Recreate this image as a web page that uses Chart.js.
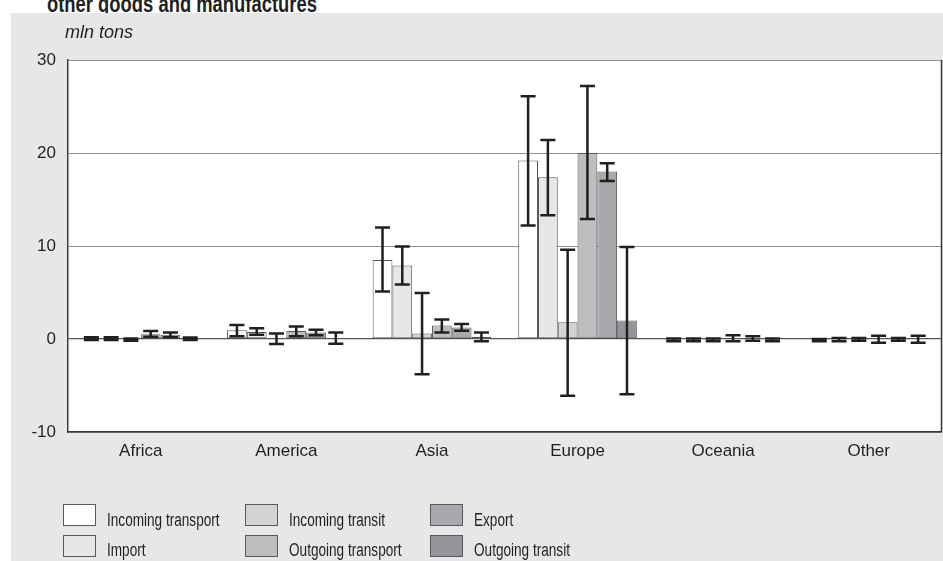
<!DOCTYPE html>
<html>
<head>
<meta charset="utf-8">
<script src="https://cdn.jsdelivr.net/npm/chart.js@4.4.0/dist/chart.umd.min.js"></script>
<style>
  html, body { margin: 0; padding: 0; background: #ffffff; }
  body { width: 943px; height: 561px; position: relative; overflow: hidden; font-family: 'Liberation Sans', Arial, sans-serif; color: #231f20; }
  #title { position: absolute; left: 47px; top: -7px; font-size: 23px; font-weight: bold; line-height: 23px; white-space: nowrap; transform: scaleX(0.8); transform-origin: left center; }
  #panel { position: absolute; left: 11px; top: 13px; width: 932px; height: 548px; background: #e6e7e8; }
  #chart { position: absolute; left: 0; top: 0; }
  #unit { position: absolute; left: 54px; top: 10px; font-size: 18px; font-style: italic; line-height: 18px; white-space: nowrap; }
  .lbox { position: absolute; width: 31px; height: 20px; border: 1px solid #58595b; }
  .ltxt { position: absolute; font-size: 18px; line-height: 18px; white-space: nowrap; transform: scaleX(0.755); transform-origin: left center; }
</style>
</head>
<body>
<div id="title">other goods and manufactures</div>
<div id="panel">
  <canvas id="chart" width="932" height="548"></canvas>
  <div id="unit">mln tons</div>
  <div id="legend"></div>
</div>
<script>
const categories = ['Africa', 'America', 'Asia', 'Europe', 'Oceania', 'Other'];
const yTicks = [-10, 0, 10, 20, 30];

const seriesNames = ['Incoming transport', 'Import', 'Incoming transit', 'Outgoing transport', 'Export', 'Outgoing transit'];

const incomingTransport = [0.05, 0.95, 8.5, 19.2, -0.1, -0.1];
const incomingTransportLow = [-0.1, 0.3, 5.1, 12.2, -0.25, -0.25];
const incomingTransportHigh = [0.2, 1.5, 12.0, 26.1, 0.05, 0.0];

const importValues = [0.05, 0.75, 7.9, 17.4, -0.1, -0.05];
const importLow = [-0.1, 0.45, 5.85, 13.3, -0.25, -0.25];
const importHigh = [0.2, 1.15, 9.95, 21.4, 0.05, 0.1];

const incomingTransit = [-0.05, 0.05, 0.6, 1.8, -0.1, -0.05];
const incomingTransitLow = [-0.2, -0.55, -3.8, -6.1, -0.25, -0.2];
const incomingTransitHigh = [0.05, 0.6, 4.95, 9.6, 0.05, 0.1];

const outgoingTransport = [0.5, 0.85, 1.45, 20.0, 0.1, 0.0];
const outgoingTransportLow = [0.25, 0.3, 0.7, 12.9, -0.25, -0.4];
const outgoingTransportHigh = [0.85, 1.35, 2.1, 27.2, 0.4, 0.35];

const exportValues = [0.45, 0.7, 1.25, 18.0, 0.05, -0.05];
const exportLow = [0.2, 0.4, 0.9, 17.0, -0.2, -0.2];
const exportHigh = [0.7, 1.0, 1.6, 18.9, 0.3, 0.1];

const outgoingTransit = [0.05, 0.1, 0.25, 2.0, -0.1, 0.0];
const outgoingTransitLow = [-0.1, -0.5, -0.25, -5.95, -0.25, -0.4];
const outgoingTransitHigh = [0.15, 0.7, 0.7, 9.9, 0.05, 0.35];

const fills = ['#ffffff', '#e6e7e8', '#d1d3d4', '#bcbec0', '#a7a9ac', '#939598'];

const values = [incomingTransport, importValues, incomingTransit, outgoingTransport, exportValues, outgoingTransit];
const lows = [incomingTransportLow, importLow, incomingTransitLow, outgoingTransportLow, exportLow, outgoingTransitLow];
const highs = [incomingTransportHigh, importHigh, incomingTransitHigh, outgoingTransportHigh, exportHigh, outgoingTransitHigh];

const datasets = seriesNames.map((name, i) => ({
  label: name,
  data: values[i],
  backgroundColor: fills[i],
  borderColor: '#58595b',
  borderWidth: 1,
  borderSkipped: false,
  categoryPercentage: 0.815,
  barPercentage: 1.0
}));

const plotBg = {
  id: 'plotBg',
  beforeDraw(chart) {
    const { ctx, chartArea: a } = chart;
    ctx.save();
    ctx.fillStyle = '#ffffff';
    ctx.fillRect(a.left, a.top, a.right - a.left, a.bottom - a.top);
    ctx.restore();
  },
  afterDraw(chart) {
    const { ctx, chartArea: a } = chart;
    ctx.save();
    ctx.strokeStyle = '#3a3a3a';
    ctx.lineWidth = 1.5;
    ctx.beginPath();
    ctx.moveTo(a.right, a.top);
    ctx.lineTo(a.right, a.bottom);
    ctx.stroke();
    ctx.restore();
  }
};

const errorBars = {
  id: 'errorBars',
  afterDatasetsDraw(chart) {
    const { ctx } = chart;
    const y = chart.scales.y;
    ctx.save();
    ctx.strokeStyle = '#231f20';
    ctx.lineWidth = 2.5;
    ctx.lineCap = 'butt';
    for (let d = 0; d < datasets.length; d++) {
      const meta = chart.getDatasetMeta(d);
      meta.data.forEach((bar, i) => {
        const x = bar.x;
        const yl = y.getPixelForValue(lows[d][i]);
        const yh = y.getPixelForValue(highs[d][i]);
        const hw = 7.5;
        ctx.beginPath();
        ctx.moveTo(x, yl); ctx.lineTo(x, yh);
        ctx.moveTo(x - hw, yl); ctx.lineTo(x + hw, yl);
        ctx.moveTo(x - hw, yh); ctx.lineTo(x + hw, yh);
        ctx.stroke();
      });
    }
    ctx.restore();
  }
};

new Chart(document.getElementById('chart'), {
  type: 'bar',
  data: { labels: categories, datasets },
  options: {
    responsive: false,
    animation: false,
    devicePixelRatio: 1,
    layout: { padding: { left: 0, top: 47, right: 1.5, bottom: 89 } },
    plugins: { legend: { display: false }, tooltip: { enabled: false } },
    scales: {
      x: {
        grid: { display: false, drawTicks: false },
        border: { display: true, color: '#3a3a3a', width: 1.5 },
        ticks: { color: '#231f20', font: { family: "'Liberation Sans', Arial, sans-serif", size: 17 }, padding: 9 },
        afterFit(scale) { scale.height = 40; }
      },
      y: {
        min: -10, max: 30,
        afterBuildTicks(scale) { scale.ticks = yTicks.map(v => ({ value: v })); },
        grid: {
          drawTicks: false,
          color: ctx => (ctx.tick && ctx.tick.value === 0) ? '#555555' : '#8f8f8f',
          lineWidth: ctx => (ctx.tick && ctx.tick.value === 0) ? 1.3 : 1
        },
        border: { display: true, color: '#3a3a3a', width: 1.5 },
        ticks: { color: '#231f20', font: { family: "'Liberation Sans', Arial, sans-serif", size: 17 }, padding: 12 },
        afterFit(scale) { scale.width = 57; }
      }
    }
  },
  plugins: [plotBg, errorBars]
});

// HTML legend (3 columns x 2 rows), positions relative to panel
const legend = document.getElementById('legend');
const colX = [52, 234, 419];
const txtX = [96, 278, 463];
const rowBoxTop = [491, 522];
const rowTxtTop = [498, 528];
seriesNames.forEach((name, i) => {
  const col = Math.floor(i / 2), row = i % 2;
  const b = document.createElement('div');
  b.className = 'lbox';
  b.style.left = colX[col] + 'px';
  b.style.top = rowBoxTop[row] + 'px';
  b.style.background = fills[i];
  legend.appendChild(b);
  const t = document.createElement('div');
  t.className = 'ltxt';
  t.style.left = txtX[col] + 'px';
  t.style.top = rowTxtTop[row] + 'px';
  t.textContent = name;
  legend.appendChild(t);
});
</script>
</body>
</html>
